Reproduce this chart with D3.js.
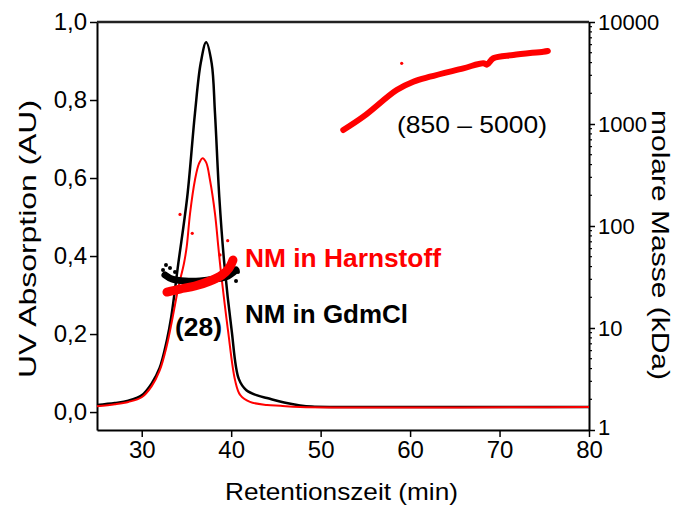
<!DOCTYPE html>
<html><head><meta charset="utf-8">
<script src="https://cdn.jsdelivr.net/npm/d3@7/dist/d3.min.js"></script>
<style>
html,body{margin:0;padding:0;background:#fff;}
svg text{font-family:"Liberation Sans",Arial,sans-serif;}
</style>
</head><body>
<svg id="chart" width="684" height="506"></svg>
<script>
// UV absorption traces (time in min, absorption in AU)
const uvGdmTime = [25,27,28.5,30,31.1,32,32.8,33.3,34.09,35.09,35.95,36.59,37.2,37.82,38.19,38.67,39.23,40.05,40.85,41.7,43,44,46.2,47.7,49,52,80];
const uvGdmAbs  = [0.018,0.023,0.029,0.043,0.073,0.113,0.183,0.244,0.381,0.552,0.766,0.894,0.948,0.894,0.766,0.552,0.381,0.21,0.085,0.056,0.042,0.036,0.023,0.017,0.014,0.013,0.013];
const uvUreaTime = [25,27,28.5,30,31.1,32,32.8,33.4,34.1,34.72,35.03,35.4,35.95,36.4,36.8,37.2,37.63,38.19,38.56,38.75,39.0,39.64,40.43,41.0,42.1,44,45.5,47.7,80];
const uvUreaAbs  = [0.015,0.020,0.026,0.038,0.066,0.106,0.17,0.236,0.32,0.381,0.424,0.509,0.595,0.637,0.651,0.64,0.595,0.509,0.424,0.381,0.33,0.21,0.082,0.044,0.026,0.018,0.016,0.013,0.013];

// Molar mass (kDa) bands
const mmGdmTime = [32.6,33.38,34.84,36.51,38.19,39.64,40.54];
const mmGdmMass = [33.1,30.2,28.9,28.9,30.2,32.3,37.0];
const mmGdmDotTime = [32.38,32.71,33.16,33.72,40.09,40.54,40.76];
const mmGdmDotMass = [37.0,41.5,38.7,35.4,40.5,28.9,35.4];
const mmUreaTime = [32.82,34.28,35.95,37.63,38.97,39.76,40.2];
const mmUreaMass = [22.5,24.1,25.8,28.9,33.1,38.7,46.4];
const mmUreaAggTime = [52.53,54.77,58.5,60.36,62.22,65.95,68.18,68.6,69.3,71.54,74.9,75.4];
const mmUreaAggMass = [873,1180,2155,2600,2910,3515,3940,3820,4410,4750,5120,5200];
const mmUreaDotTime = [34.28,35.65,39.61,38.75,59.06];
const mmUreaDotMass = [130,84.8,71.8,52,3935];

const xTicks = [30,40,50,60,70,80];
const yLeftTicks = [0,0.2,0.4,0.6,0.8,1.0];
const yRightTicks = [1,10,100,1000,10000];

const svg = d3.select("#chart");
const L=97,R=589,T=22,B=430;
const x = d3.scaleLinear().domain([25,80]).range([L,R]);
const yL = d3.scaleLinear().domain([-0.046,1.0]).range([B,T]);
const yR = d3.scaleLog().domain([1,10000]).range([B,T]);

svg.append("rect").attr("width",684).attr("height",506).attr("fill","#fff");

// axes
const fmt = d => d3.format(".1f")(d).replace(".",",");
const gx = svg.append("g").attr("transform",`translate(0,${B})`)
  .call(d3.axisBottom(x).tickValues(xTicks).tickSize(7).tickSizeOuter(0).tickPadding(4));
const gl = svg.append("g").attr("transform",`translate(${L},0)`)
  .call(d3.axisLeft(yL).tickValues(yLeftTicks).tickFormat(fmt).tickSize(7).tickSizeOuter(0).tickPadding(3));
const gr = svg.append("g").attr("transform",`translate(${R},0)`)
  .call(d3.axisRight(yR).tickValues(yRightTicks).tickFormat(d3.format("d")).tickSize(6).tickSizeOuter(0).tickPadding(3));
// minor log ticks
const minor = [];
yRightTicks.slice(0,-1).forEach(d=>{for(let k=2;k<10;k++) minor.push(d*k);});
gr.selectAll("line.minor").data(minor).enter().append("line").attr("class","minor")
  .attr("x1",0).attr("x2",3).attr("y1",d=>yR(d)).attr("y2",d=>yR(d)).attr("stroke","#000").attr("stroke-width",1.2);
[gx,gl,gr].forEach(g=>{
  g.select(".domain").attr("stroke","#000").attr("stroke-width",2);
  g.selectAll(".tick line").attr("stroke","#000").attr("stroke-width",1.5);
  g.selectAll(".tick text").attr("font-size",24).attr("fill","#000");
});
gr.selectAll(".tick text").attr("font-size",22);
gr.selectAll(".tick text").filter(d=>d===1).attr("dy","0.2em");
svg.append("line").attr("x1",L).attr("x2",R).attr("y1",T).attr("y2",T).attr("stroke","#222").attr("stroke-width",2.5);

// UV curves
const line = d3.line().curve(d3.curveCatmullRom.alpha(0.5));
svg.append("path").attr("d",line(uvGdmTime.map((t,i)=>[x(t),yL(uvGdmAbs[i])])))
  .attr("fill","none").attr("stroke","#000").attr("stroke-width",2.5);
svg.append("path").attr("d",line(uvUreaTime.map((t,i)=>[x(t),yL(uvUreaAbs[i])])))
  .attr("fill","none").attr("stroke","#ff0000").attr("stroke-width",2);

// molar mass scatter bands
const band = d3.line().curve(d3.curveCatmullRom.alpha(0.5));
svg.append("path").attr("d",band(mmGdmTime.map((t,i)=>[x(t),yR(mmGdmMass[i])])))
  .attr("fill","none").attr("stroke","#000").attr("stroke-width",7).attr("stroke-linecap","round").attr("stroke-linejoin","round");
svg.selectAll("circle.gd").data(mmGdmDotTime).enter().append("circle")
  .attr("cx",d=>x(d)).attr("cy",(d,i)=>yR(mmGdmDotMass[i])).attr("r",2).attr("fill","#000");
svg.append("path").attr("d",band(mmUreaTime.map((t,i)=>[x(t),yR(mmUreaMass[i])])))
  .attr("fill","none").attr("stroke","#ff0000").attr("stroke-width",9).attr("stroke-linecap","round").attr("stroke-linejoin","round");
svg.append("path").attr("d",band(mmUreaAggTime.map((t,i)=>[x(t),yR(mmUreaAggMass[i])])))
  .attr("fill","none").attr("stroke","#ff0000").attr("stroke-width",6).attr("stroke-linecap","round").attr("stroke-linejoin","round");
svg.selectAll("circle.ud").data(mmUreaDotTime).enter().append("circle")
  .attr("cx",d=>x(d)).attr("cy",(d,i)=>yR(mmUreaDotMass[i])).attr("r",1.6).attr("fill","#ff0000");

// annotations
function txt(xp,yp,s,size,opts){
  const t = svg.append("text").attr("x",xp).attr("y",yp).attr("font-size",size).attr("fill",opts.fill||"#000").text(s);
  if(opts.bold) t.attr("font-weight","bold");
  if(opts.len) t.attr("textLength",opts.len).attr("lengthAdjust","spacingAndGlyphs");
  if(opts.anchor) t.attr("text-anchor",opts.anchor);
  return t;
}
txt(245,267,"NM in Harnstoff",25,{bold:true,fill:"#ff0000",len:196});
txt(245,323,"NM in GdmCl",25,{bold:true,len:163});
txt(175,336,"(28)",25,{bold:true,len:47});
txt(397,133,"(850 – 5000)",24,{len:150});

// axis titles
txt(225,500,"Retentionszeit (min)",24,{len:233});
svg.append("text").attr("transform","translate(36,378) rotate(-90)").attr("font-size",24).attr("fill","#000")
  .attr("textLength",278).attr("lengthAdjust","spacingAndGlyphs").text("UV Absorption (AU)");
svg.append("text").attr("transform","translate(652,110) rotate(90)").attr("font-size",23).attr("fill","#000")
  .attr("textLength",270).attr("lengthAdjust","spacingAndGlyphs").text("molare Masse (kDa)");
</script>
</body></html>
